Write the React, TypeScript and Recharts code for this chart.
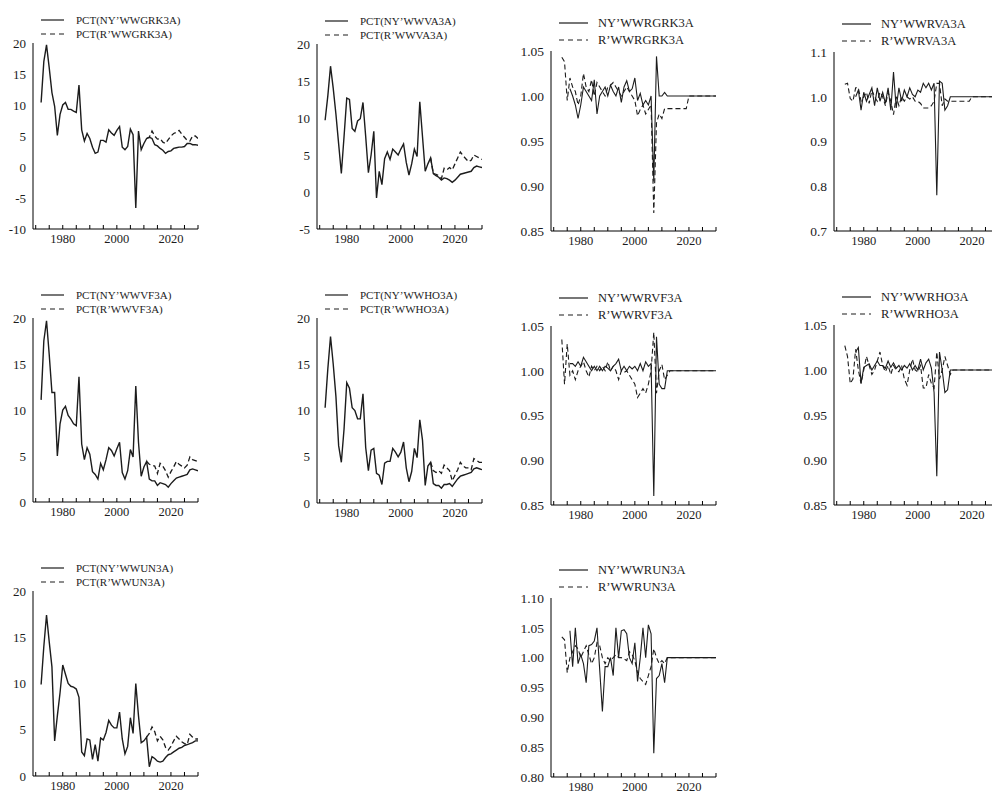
import React from 'react';
import { LineChart, Line, XAxis, YAxis, Legend } from 'recharts';

// ---------- categories ----------
const PCT_YEARS = [1972,1973,1974,1975,1976,1977,1978,1979,1980,1981,1982,1983,1984,1985,1986,1987,1988,1989,1990,1991,1992,1993,1994,1995,1996,1997,1998,1999,2000,2001,2002,2003,2004,2005,2006,2007,2008,2009,2010,2011,2012,2013,2014,2015,2016,2017,2018,2019,2020,2021,2022,2023,2024,2025,2026,2027,2028,2029,2030];
const PROJ_YEARS = [2011,2012,2013,2014,2015,2016,2017,2018,2019,2020,2021,2022,2023,2024,2025,2026,2027,2028,2029,2030];
const RATIO_YEARS = [1973,1974,1975,1976,1977,1978,1979,1980,1981,1982,1983,1984,1985,1986,1987,1988,1989,1990,1991,1992,1993,1994,1995,1996,1997,1998,1999,2000,2001,2002,2003,2004,2005,2006,2007,2008,2009,2010,2011,2012,2013,2014,2015,2016,2017,2018,2019,2020,2030];

// ---------- tick labels ----------
const X_TICKS = [1970,1975,1980,1985,1990,1995,2000,2005,2010,2015,2020,2025,2030];
const X_LABELS = [1980,2000,2020];
const TICKS_M10 = [-10,-5,0,5,10,15,20];
const TICKS_M5 = [-5,0,5,10,15,20];
const TICKS_0 = [0,5,10,15,20];
const TICKS_R085 = [0.85,0.90,0.95,1.00,1.05];
const TICKS_R07 = [0.7,0.8,0.9,1.0,1.1];
const TICKS_R080 = [0.80,0.85,0.90,0.95,1.00,1.05,1.10];

// ---------- series: percentage change panels (1972-2030 solid, 2011-2030 dashed) ----------
const NY_GRK = [10.4,17.0,19.7,16.0,12.0,9.8,5.1,8.5,10.0,10.4,9.3,9.3,9.0,8.8,13.2,6.0,4.2,5.4,4.6,3.2,2.2,2.4,4.3,4.3,4.0,6.0,5.5,5.1,5.9,6.5,3.2,2.8,3.3,6.1,5.2,-6.6,5.8,2.8,3.8,4.6,4.8,4.6,3.6,3.4,3.0,2.7,2.2,2.5,2.6,3.0,3.1,3.2,3.2,3.3,3.8,3.8,3.6,3.6,3.5];
const R_GRK = [4.6,4.8,5.8,5.0,4.5,4.6,4.0,3.8,4.4,5.0,5.4,5.6,5.9,5.3,4.8,4.3,4.2,5.0,5.0,4.6];

const NY_VA = [9.7,13.0,17.0,14.0,10.5,6.5,2.5,7.5,12.7,12.5,8.6,8.2,9.6,9.9,12.1,7.5,2.6,5.0,8.2,-0.8,2.8,1.0,4.5,5.4,4.4,5.8,5.4,5.0,5.8,6.5,4.0,2.3,3.8,5.8,4.8,12.2,7.5,2.8,3.8,4.6,2.5,2.2,2.0,1.6,1.9,1.8,1.6,1.3,1.6,2.0,2.4,2.5,2.6,2.7,2.8,3.3,3.5,3.4,3.3];
const R_VA = [4.6,2.5,2.4,2.2,1.8,3.2,3.0,3.3,3.0,3.8,4.6,5.4,4.9,4.5,4.1,4.3,5.0,4.8,4.6,4.4];

const NY_VF = [11.1,17.5,19.7,16.0,11.9,11.9,5.0,8.5,10.0,10.4,9.4,9.0,8.5,8.3,13.6,6.3,4.6,5.9,5.2,3.3,3.0,2.5,4.2,3.5,4.6,5.9,5.6,5.0,5.8,6.5,3.2,2.5,3.4,5.7,4.9,12.6,6.5,2.8,3.8,4.4,2.5,2.3,2.3,1.8,2.1,2.0,1.9,1.6,2.0,2.3,2.6,2.7,2.8,2.9,3.0,3.5,3.6,3.5,3.4];
const R_VF = [4.4,4.1,4.0,3.9,3.1,4.2,3.9,3.4,2.7,3.3,3.8,4.4,4.1,3.9,3.7,4.0,4.9,4.6,4.5,4.4];

const NY_HO = [10.3,14.5,18.0,15.0,11.5,6.2,4.4,8.0,13.0,12.4,10.3,10.0,9.1,9.1,11.8,6.0,3.5,5.7,5.9,3.2,3.0,2.0,4.3,4.5,4.5,5.9,5.5,5.0,5.5,6.6,3.8,2.3,3.4,5.9,4.9,9.0,6.8,1.9,4.0,4.4,2.1,1.9,1.9,1.6,2.0,2.0,2.1,1.8,2.2,2.6,2.9,3.0,3.1,3.2,3.3,3.7,3.8,3.7,3.6];
const R_HO = [4.4,3.5,3.3,3.5,3.2,4.1,3.8,3.5,2.4,3.0,3.6,4.4,4.0,3.8,3.8,3.6,4.8,4.6,4.4,4.4];

const NY_UN = [9.9,14.0,17.4,14.5,11.8,3.8,6.5,9.0,12.0,11.0,10.0,9.7,9.6,9.4,8.5,2.6,2.2,4.0,3.9,1.8,3.4,1.6,4.1,3.9,4.7,6.0,5.5,5.2,5.2,6.9,4.0,2.4,3.2,6.3,4.6,10.0,6.5,3.6,3.8,4.2,1.0,2.1,1.9,1.6,1.5,1.6,2.0,2.3,2.4,2.6,2.8,3.0,3.1,3.3,3.4,3.5,3.6,3.8,3.8];
const R_UN = [4.2,4.6,5.3,4.8,3.8,4.3,3.9,3.1,2.8,3.2,3.8,4.3,4.0,3.7,3.5,3.4,4.5,4.2,4.0,4.0];

// ---------- series: ratio panels (RATIO_YEARS) ----------
const NY_RGRK = [null,null,null,1.008,1.0,0.99,0.975,0.99,1.01,1.005,1.0,0.995,1.018,0.98,1.0,1.005,1.01,1.0,1.012,1.005,1.0,1.01,0.993,1.01,1.017,1.005,1.008,1.02,0.995,1.003,0.99,0.995,0.99,1.0,0.905,1.044,1.0,1.0,1.004,1.0,1.0,1.0,1.0,1.0,1.0,1.0,1.0,1.0,1.0];
const R_RGRK = [1.043,1.038,0.995,1.02,1.01,1.005,0.99,1.0,1.025,1.01,1.005,1.018,1.0,1.015,1.01,1.005,1.0,1.01,1.012,1.015,1.01,1.005,1.0,1.005,1.01,1.005,1.0,0.995,0.978,0.985,0.99,0.98,0.985,0.99,0.87,0.97,0.98,0.975,0.986,0.986,0.986,0.986,0.986,0.986,0.986,0.986,0.986,1.0,1.0];

const NY_RVA = [null,null,null,null,1.0,1.015,0.97,1.01,0.99,1.005,1.02,0.98,1.02,0.99,1.01,0.985,1.02,0.97,1.055,0.975,1.02,0.99,1.015,1.0,1.02,1.005,1.0,1.015,1.01,1.03,1.02,1.03,1.015,1.03,0.78,1.035,1.03,0.97,0.98,1.0,1.0,1.0,1.0,1.0,1.0,1.0,1.0,1.0,1.0];
const R_RVA = [1.028,1.03,0.996,0.99,1.02,1.02,0.99,1.0,1.01,0.985,1.015,1.0,0.99,1.01,1.0,0.98,1.01,0.99,0.96,1.0,0.98,1.0,0.99,1.0,0.995,1.0,0.99,0.99,0.985,0.975,0.975,0.975,0.98,0.99,1.03,1.03,0.98,0.995,0.99,0.99,0.99,0.99,0.99,0.99,0.99,0.99,0.99,1.0,1.0];

const NY_RVF = [null,null,null,1.008,1.008,1.005,1.01,1.005,1.015,1.01,1.005,1.0,1.005,1.0,1.005,1.0,1.005,1.003,1.0,1.005,1.008,1.013,1.0,1.005,1.0,1.005,1.002,1.005,1.0,1.008,1.0,1.01,1.005,1.008,0.86,1.038,0.985,0.98,0.98,1.0,1.0,1.0,1.0,1.0,1.0,1.0,1.0,1.0,1.0];
const R_RVF = [1.035,0.985,1.03,0.995,1.0,0.99,1.0,1.005,1.01,1.0,0.993,1.005,1.0,1.005,1.0,1.005,1.0,1.01,1.0,1.005,1.0,0.99,1.0,0.998,1.0,0.995,0.99,0.985,0.97,0.975,0.98,0.975,0.985,1.0,1.043,0.975,1.0,1.007,0.99,0.995,1.0,1.0,1.0,1.0,1.0,1.0,1.0,1.0,1.0];

const NY_RHO = [null,null,null,null,1.02,1.025,0.985,1.003,1.005,1.007,1.0,1.005,1.01,1.005,1.005,1.002,1.01,1.003,1.008,1.002,1.005,1.0,1.005,1.002,1.007,1.0,1.005,1.0,1.012,1.0,1.008,1.012,1.002,0.975,0.882,1.02,1.0,0.975,0.978,1.0,1.0,1.0,1.0,1.0,1.0,1.0,1.0,1.0,1.0];
const R_RHO = [1.027,1.015,0.985,0.99,1.023,1.0,0.985,1.0,1.015,1.005,0.995,1.0,1.01,1.02,1.005,0.998,1.005,0.995,1.005,1.0,0.998,1.005,0.99,0.983,1.0,1.012,1.0,0.998,1.005,0.98,0.98,0.995,0.985,0.98,1.02,0.99,1.0,1.015,1.005,0.995,1.0,1.0,1.0,1.0,1.0,1.0,1.0,1.0,1.0];

const NY_RUN = [null,null,null,1.045,0.985,1.05,0.99,1.005,0.99,0.958,1.02,1.022,1.028,1.05,0.98,0.91,0.985,0.985,1.0,0.97,1.05,1.0,1.045,1.047,1.04,1.0,0.99,1.025,0.96,1.0,1.05,1.0,1.055,1.04,0.84,0.965,0.97,0.99,0.958,1.0,1.0,1.0,1.0,1.0,1.0,1.0,1.0,1.0,1.0];
const R_RUN = [1.035,1.03,0.975,1.0,1.01,1.02,1.015,1.0,1.01,1.02,1.005,0.99,1.0,1.025,1.02,1.0,0.99,1.0,0.995,1.0,1.005,1.0,1.0,0.998,0.995,1.01,1.005,0.995,0.975,0.965,0.96,0.955,0.97,0.985,1.015,1.0,0.99,0.995,0.99,1.0,1.0,1.0,1.0,1.0,1.0,1.0,1.0,1.0,1.0];

// ---------- legend labels ----------
const NAMES_GRK = ['PCT(NY’WWGRK3A)', 'PCT(R’WWGRK3A)'];
const NAMES_VA = ['PCT(NY’WWVA3A)', 'PCT(R’WWVA3A)'];
const NAMES_VF = ['PCT(NY’WWVF3A)', 'PCT(R’WWVF3A)'];
const NAMES_HO = ['PCT(NY’WWHO3A)', 'PCT(R’WWHO3A)'];
const NAMES_UN = ['PCT(NY’WWUN3A)', 'PCT(R’WWUN3A)'];
const NAMES_RGRK = ['NY’WWRGRK3A', 'R’WWRGRK3A'];
const NAMES_RVA = ['NY’WWRVA3A', 'R’WWRVA3A'];
const NAMES_RVF = ['NY’WWRVF3A', 'R’WWRVF3A'];
const NAMES_RHO = ['NY’WWRHO3A', 'R’WWRHO3A'];
const NAMES_RUN = ['NY’WWRUN3A', 'R’WWRUN3A'];

// ---------- builders ----------
function pctRows(ny: number[], r: number[]) {
  return PCT_YEARS.map((year, i) => {
    const j = PROJ_YEARS.indexOf(year);
    return { year, ny: ny[i], r: j >= 0 ? r[j] : null };
  });
}
function ratioRows(ny: (number | null)[], r: (number | null)[]) {
  return RATIO_YEARS.map((year, i) => ({ year, ny: ny[i], r: r[i] }));
}

const FONT = '"Liberation Serif", "Times New Roman", Times, serif';
const INK = '#1c1c1c';

const XTick = (props: any) => {
  const { x, y, payload } = props;
  const v = payload.value;
  return (
    <g>
      <line x1={x} x2={x} y1={y} y2={y - 4} stroke="#000" strokeWidth={1} />
      {X_LABELS.includes(v) ? (
        <text x={x} y={y + 13.5} textAnchor="middle" fontFamily={FONT} fontSize={12.5} fill={INK}>
          {v}
        </text>
      ) : null}
    </g>
  );
};

type PanelProps = {
  left: number; top: number; bottom: number; right: number;
  rows: any[]; domain: number[]; ticks: number[]; decimals: number;
  names: string[]; ratio: boolean;
};

function Panel({ left, top, bottom, right, rows, domain, ticks, decimals, names, ratio }: PanelProps) {
  const ML = 45, MT = 42, MR = 12, XH = 22;
  const w = ML + (right - left) + MR;
  const h = MT + (bottom - top) + XH;
  const lg = ratio
    ? { x: 8, len: 29, tx: 39, y1: -28, y2: -11, fs: 12.5 }
    : { x: 8, len: 23, tx: 35, y1: -23, y2: -9, fs: 11 };
  const legendContent = () => (
    <svg width={230} height={34} style={{ display: 'block', overflow: 'visible' }}>
      <line x1={0} x2={lg.len} y1={6} y2={6} stroke={INK} strokeWidth={1.2} />
      <text x={lg.tx} y={6} dy="0.35em" fontFamily={FONT} fontSize={lg.fs} fill={INK}>{names[0]}</text>
      <line x1={0} x2={lg.len} y1={6 + (lg.y2 - lg.y1)} y2={6 + (lg.y2 - lg.y1)} stroke={INK} strokeWidth={1.2} strokeDasharray="5 4" />
      <text x={lg.tx} y={6 + (lg.y2 - lg.y1)} dy="0.35em" fontFamily={FONT} fontSize={lg.fs} fill={INK}>{names[1]}</text>
    </svg>
  );
  return (
    <div style={{ position: 'absolute', left: left - ML, top: top - MT }}>
      <LineChart width={w} height={h} data={rows} margin={{ top: MT, right: MR, left: 0, bottom: 0 }}>
        <XAxis
          dataKey="year" type="number" domain={[1969, 2030]} ticks={X_TICKS} interval={0}
          allowDataOverflow tickLine={false} tickSize={0} tickMargin={0} height={XH}
          axisLine={{ stroke: '#000', strokeWidth: 1 }}
          tick={(p: any) => <XTick {...p} />}
        />
        <YAxis
          type="number" domain={domain} ticks={ticks} interval={0} allowDataOverflow
          width={ML} tickLine={false} tickSize={0} tickMargin={7}
          axisLine={{ stroke: '#000', strokeWidth: 1 }}
          tick={{ fill: INK, fontSize: ratio ? 13.5 : 13, fontFamily: FONT }}
          tickFormatter={(v: number) => v.toFixed(decimals)}
        />
        <Line dataKey="ny" type="linear" dot={false} activeDot={false} stroke={INK}
          strokeWidth={ratio ? 1.1 : 1.4} isAnimationActive={false} connectNulls={false} />
        <Line dataKey="r" type="linear" dot={false} activeDot={false} stroke={INK}
          strokeWidth={ratio ? 1.1 : 1.3} strokeDasharray="5 3" isAnimationActive={false} connectNulls={false} />
        <Legend
          layout="vertical" align="center" verticalAlign="middle"
          wrapperStyle={{ left: ML + lg.x, top: MT + lg.y1 - 6, width: 230, height: 34 }}
          content={legendContent}
        />
      </LineChart>
    </div>
  );
}

export default function App() {
  return (
    <div style={{ position: 'absolute', left: 0, top: 0, width: 992, height: 794, overflow: 'hidden', background: '#fff' }}>
      <Panel left={33} top={43} bottom={229} right={198} rows={pctRows(NY_GRK, R_GRK)} domain={[-10, 20]} ticks={TICKS_M10} decimals={0} names={NAMES_GRK} ratio={false} />
      <Panel left={317} top={44} bottom={229} right={482} rows={pctRows(NY_VA, R_VA)} domain={[-5, 20]} ticks={TICKS_M5} decimals={0} names={NAMES_VA} ratio={false} />
      <Panel left={551} top={51} bottom={231} right={716} rows={ratioRows(NY_RGRK, R_RGRK)} domain={[0.85, 1.05]} ticks={TICKS_R085} decimals={2} names={NAMES_RGRK} ratio={true} />
      <Panel left={834} top={52} bottom={231} right={999} rows={ratioRows(NY_RVA, R_RVA)} domain={[0.7, 1.1]} ticks={TICKS_R07} decimals={1} names={NAMES_RVA} ratio={true} />

      <Panel left={33} top={318} bottom={502} right={198} rows={pctRows(NY_VF, R_VF)} domain={[0, 20]} ticks={TICKS_0} decimals={0} names={NAMES_VF} ratio={false} />
      <Panel left={317} top={318} bottom={503} right={482} rows={pctRows(NY_HO, R_HO)} domain={[0, 20]} ticks={TICKS_0} decimals={0} names={NAMES_HO} ratio={false} />
      <Panel left={551} top={326} bottom={505} right={716} rows={ratioRows(NY_RVF, R_RVF)} domain={[0.85, 1.05]} ticks={TICKS_R085} decimals={2} names={NAMES_RVF} ratio={true} />
      <Panel left={834} top={325} bottom={505} right={999} rows={ratioRows(NY_RHO, R_RHO)} domain={[0.85, 1.05]} ticks={TICKS_R085} decimals={2} names={NAMES_RHO} ratio={true} />

      <Panel left={33} top={591} bottom={776} right={198} rows={pctRows(NY_UN, R_UN)} domain={[0, 20]} ticks={TICKS_0} decimals={0} names={NAMES_UN} ratio={false} />
      <Panel left={551} top={598} bottom={777} right={716} rows={ratioRows(NY_RUN, R_RUN)} domain={[0.8, 1.1]} ticks={TICKS_R080} decimals={2} names={NAMES_RUN} ratio={true} />
    </div>
  );
}
